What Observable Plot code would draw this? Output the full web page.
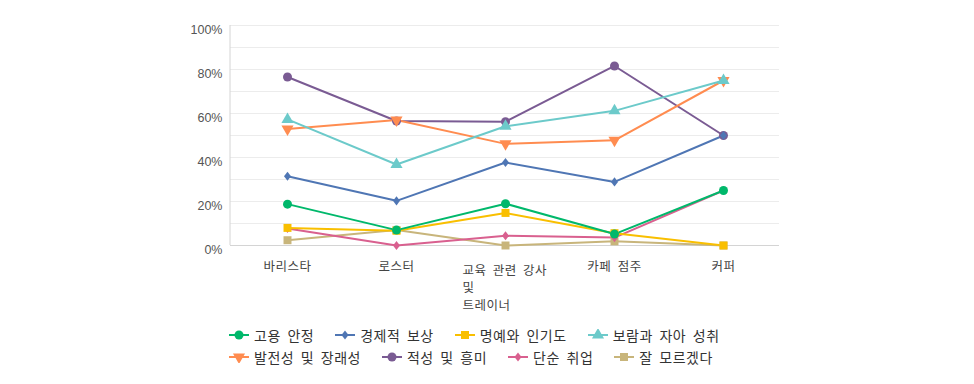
<!DOCTYPE html>
<html>
<head>
<meta charset="utf-8">
<script src="https://cdn.jsdelivr.net/npm/d3@7"></script>
<script src="https://cdn.jsdelivr.net/npm/@observablehq/plot@0.6"></script>
<style>
  html, body { margin: 0; padding: 0; background: #fff; }
  body { width: 974px; font-family: "Liberation Sans", "Noto Sans CJK KR", sans-serif; }
  #chart svg text.cat { letter-spacing: 0.5px; word-spacing: 3px; }
  #legend { display: flex; flex-wrap: wrap; width: 530px; margin-left: 229px; padding-top: 9px; column-gap: 21px; }
  .item { display: flex; align-items: center; height: 22px; font-size: 14px; color: #333; font-family: "Noto Sans CJK KR", sans-serif; letter-spacing: 0.5px; word-spacing: 3px; }
  .item svg { margin-right: 5px; }
</style>
</head>
<body>
<div id="chart"></div>
<div id="legend"></div>
<script>
const categories = ["바리스타", "로스터", "교육 관련 강사 및 트레이너", "카페 점주", "커퍼"];
const series = ["고용 안정", "경제적 보상", "명예와 인기도", "보람과 자아 성취", "발전성 및 장래성", "적성 및 흥미", "단순 취업", "잘 모르겠다"];
const v_goyong = [18.8, 7.0, 19.0, 5.2, 25.0];
const v_gyeongje = [31.5, 20.3, 37.7, 28.9, 50.0];
const v_myeongye = [8.0, 6.7, 14.8, 5.6, 0.0];
const v_boram = [57.3, 36.8, 54.2, 61.2, 75.0];
const v_baljeon = [52.9, 57.0, 46.2, 47.8, 75.0];
const v_jeokseong = [76.6, 56.6, 56.3, 81.6, 50.0];
const v_dansun = [7.7, 0.0, 4.4, 3.6, 25.0];
const v_molla = [2.4, 7.0, 0.0, 1.9, 0.0];
const yTicks = [0, 20, 40, 60, 80, 100];
const yGrid = [0, 10, 20, 30, 40, 50, 60, 70, 80, 90, 100];

const colors = ["#00b86b", "#4f76b4", "#f9bf00", "#6ccaca", "#ff8c50", "#7a5b93", "#d9608f", "#c8b57b"];
const sqrt3 = Math.sqrt(3);
const triangleDown = {
  draw(context, size) {
    const y = -Math.sqrt(size / (sqrt3 * 3));
    context.moveTo(0, -y * 2);
    context.lineTo(-sqrt3 * y, y);
    context.lineTo(sqrt3 * y, y);
    context.closePath();
  }
};
const diamond = {
  draw(context, size) {
    const s = Math.sqrt(size);
    const w = s * 0.44, h = s * 0.57;
    context.moveTo(0, -h);
    context.lineTo(w, 0);
    context.lineTo(0, h);
    context.lineTo(-w, 0);
    context.closePath();
  }
};
const symbols = [d3.symbolCircle, diamond, d3.symbolSquare, d3.symbolTriangle, triangleDown, d3.symbolCircle, diamond, d3.symbolSquare];
const valueLists = [v_goyong, v_gyeongje, v_myeongye, v_boram, v_baljeon, v_jeokseong, v_dansun, v_molla];

// draw order: first series on top
const rows = [];
for (let s = series.length - 1; s >= 0; s--) {
  categories.forEach((c, i) => rows.push({series: series[s], category: c, value: valueLists[s][i]}));
}

const wrapped = "교육 관련 강사 및 트레이너";
const fmt = d => d === wrapped ? "교육 관련 강사\n및\n트레이너" : d;

const leftAxisLine = (index, scales, values, dimensions) => {
  const g = d3.create("svg:g");
  g.append("line")
    .attr("x1", dimensions.marginLeft).attr("x2", dimensions.marginLeft)
    .attr("y1", dimensions.marginTop).attr("y2", dimensions.height - dimensions.marginBottom)
    .attr("stroke", "#d4d4d4");
  return g.node();
};

const plot = Plot.plot({
  width: 974,
  height: 315,
  marginLeft: 230,
  marginRight: 195,
  marginTop: 25,
  marginBottom: 70,
  style: {fontFamily: "'Liberation Sans', 'Noto Sans CJK KR', sans-serif", fontSize: "12.5px", color: "#555", background: "#fff"},
  x: {type: "point", domain: categories, padding: 0.5, label: null},
  y: {domain: [0, 100], label: null},
  color: {domain: series, range: colors},
  symbol: {domain: series, range: symbols},
  marks: [
    Plot.gridY(yGrid, {stroke: "#ececec", strokeOpacity: 1}),
    Plot.ruleY([0], {stroke: "#d4d4d4"}),
    leftAxisLine,
    Plot.axisY(yTicks, {tickSize: 0, tickPadding: 8, dy: 4, tickFormat: d => d + "%", fill: "#555", fontFamily: "'Liberation Sans', sans-serif", fontSize: 12.5}),
    Plot.axisX(categories.filter(c => c !== wrapped), {tickSize: 0, tickPadding: 17, fill: "#444", fontSize: 12.5, fontFamily: "'Noto Sans CJK KR', sans-serif", lineAnchor: "top", className: "cat"}),
    Plot.axisX([wrapped], {tickSize: 0, tickPadding: 17, fill: "#444", fontSize: 12.5, fontFamily: "'Noto Sans CJK KR', sans-serif", lineAnchor: "top", textAnchor: "start", dx: -43, lineHeight: 1.4, tickFormat: fmt, className: "cat"}),
    Plot.line(rows, {x: "category", y: "value", z: "series", stroke: "series", strokeWidth: 2}),
    Plot.dot(rows, {x: "category", y: "value", fill: "series", symbol: "series", r: 4.5, stroke: "none"})
  ]
});
document.getElementById("chart").appendChild(plot);
d3.select(plot).selectAll("g[aria-label='x-axis tick label'] text").classed("cat", true);

const legend = d3.select("#legend");
series.forEach((s, i) => {
  const item = legend.append("div").attr("class", "item");
  const sv = item.append("svg").attr("width", 20).attr("height", 12);
  sv.append("line").attr("x1", 0).attr("x2", 20).attr("y1", 6).attr("y2", 6).attr("stroke", colors[i]).attr("stroke-width", 2);
  sv.append("path").attr("transform", "translate(10,6)").attr("d", d3.symbol(symbols[i], 4.5 * 4.5 * Math.PI)()).attr("fill", colors[i]);
  item.append("span").text(s);
});
</script>
</body>
</html>
